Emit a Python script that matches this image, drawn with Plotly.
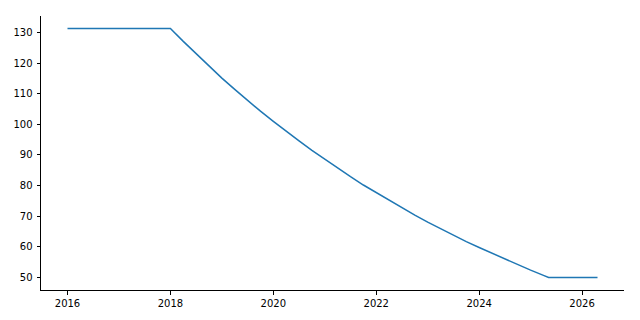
import plotly.graph_objects as go

years = [2016.0, 2018.0, 2018.25, 2018.5, 2018.75, 2019.0, 2019.25, 2019.5, 2019.75,
         2020.0, 2020.25, 2020.5, 2020.75, 2021.0, 2021.25, 2021.5, 2021.75,
         2022.0, 2022.25, 2022.5, 2022.75, 2023.0, 2023.25, 2023.5, 2023.75,
         2024.0, 2024.25, 2024.5, 2024.75, 2025.0, 2025.25, 2025.35, 2026.3]
values = [131.3, 131.3, 127.1, 123.0, 119.0, 115.1, 111.4, 107.8, 104.3,
          101.0, 97.7, 94.6, 91.5, 88.6, 85.7, 82.9, 80.2,
          77.7, 75.2, 72.8, 70.4, 68.1, 65.9, 63.8, 61.7,
          59.8, 57.9, 56.0, 54.2, 52.4, 50.7, 50.0, 50.0]
x_ticks = [2016, 2018, 2020, 2022, 2024, 2026]
y_ticks = [50, 60, 70, 80, 90, 100, 110, 120, 130]

fig = go.Figure()
fig.add_trace(go.Scatter(x=years, y=values, mode="lines",
                         line=dict(color="#1f77b4", width=1.5), showlegend=False))

axis_common = dict(showgrid=False, zeroline=False, showline=True, linecolor="black",
                   linewidth=1, ticks="outside", ticklen=3.5, tickwidth=1,
                   tickcolor="black", tickfont=dict(family="DejaVu Sans", size=10, color="black"))
fig.update_layout(
    width=640, height=320,
    margin=dict(l=41, r=16, t=16, b=30),
    plot_bgcolor="white", paper_bgcolor="white",
    xaxis=dict(range=[2015.485, 2026.815], tickvals=x_ticks,
               ticktext=[str(t) for t in x_ticks], **axis_common),
    yaxis=dict(range=[45.93, 135.37], tickvals=y_ticks, ticklabelstandoff=2,
               ticktext=[str(t) for t in y_ticks], **axis_common),
)
fig.write_html("out.html")
